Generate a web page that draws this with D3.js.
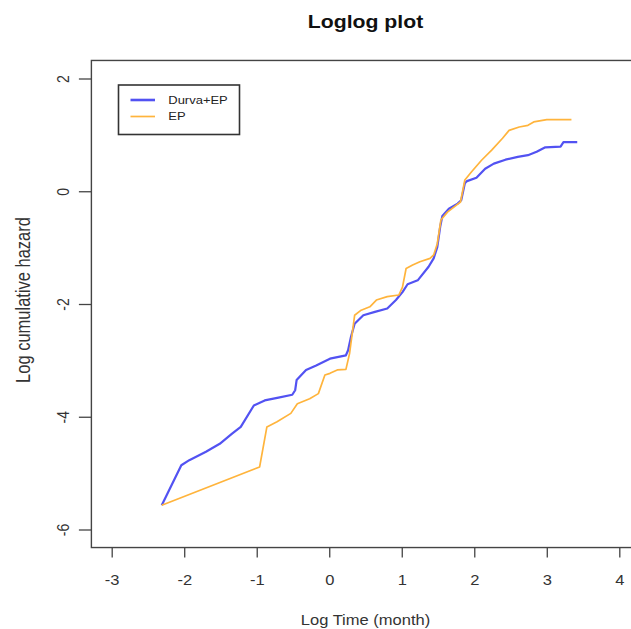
<!DOCTYPE html>
<html>
<head>
<meta charset="utf-8">
<script src="https://cdn.jsdelivr.net/npm/d3@7"></script>
<style>
  body { margin: 0; background: #fff; }
  text { font-family: "Liberation Sans", Arial, sans-serif; }
</style>
</head>
<body>
<div id="chart-area"></div>
<script>
// chart text
const TITLE = "Loglog plot"
const X_LABEL = "Log Time (month)"
const Y_LABEL = "Log cumulative hazard"
const SERIES_NAMES = ["Durva+EP", "EP"]

// tick values
const X_TICKS = [-3, -2, -1, 0, 1, 2, 3, 4]
const Y_TICKS = [-6, -4, -2, 0, 2]

// Durva+EP curve (log time, log cumulative hazard)
const durvaX = [-2.31, -2.04, -1.93, -1.70, -1.51, -1.34, -1.22, -1.04, -0.89, -0.70, -0.51, -0.47, -0.45,
  -0.32, -0.18, 0.01, 0.23, 0.26, 0.30, 0.35, 0.47, 0.63, 0.80, 0.92, 1.01, 1.08, 1.22, 1.37, 1.44, 1.49,
  1.53, 1.56, 1.65, 1.77, 1.82, 1.87, 1.90, 2.03, 2.15, 2.27, 2.43, 2.60, 2.74, 2.86, 2.98, 3.19, 3.23, 3.42]
const durvaY = [-5.57, -4.86, -4.77, -4.62, -4.48, -4.30, -4.18, -3.80, -3.71, -3.66, -3.61, -3.53, -3.35,
  -3.17, -3.09, -2.97, -2.91, -2.82, -2.58, -2.35, -2.20, -2.14, -2.08, -1.93, -1.79, -1.65, -1.58, -1.34, -1.19, -0.99,
  -0.63, -0.44, -0.31, -0.22, -0.16, 0.14, 0.18, 0.24, 0.40, 0.49, 0.56, 0.61, 0.64, 0.70, 0.78, 0.79, 0.87, 0.87]

// EP curve
const epX = [-2.31, -0.96, -0.86, -0.72, -0.53, -0.44, -0.27, -0.15, -0.06, 0.01, 0.11, 0.23, 0.28, 0.35,
  0.44, 0.56, 0.65, 0.80, 0.96, 1.01, 1.06, 1.15, 1.25, 1.39, 1.44, 1.49, 1.54, 1.63, 1.75, 1.81, 1.87,
  1.96, 2.10, 2.24, 2.39, 2.48, 2.62, 2.74, 2.82, 3.00, 3.34]
const epY = [-5.57, -4.89, -4.18, -4.09, -3.94, -3.77, -3.68, -3.59, -3.26, -3.23, -3.17, -3.16, -2.88, -2.20,
  -2.11, -2.05, -1.93, -1.87, -1.84, -1.70, -1.37, -1.31, -1.25, -1.19, -1.13, -0.93, -0.51, -0.37, -0.25, -0.19, 0.20,
  0.34, 0.55, 0.73, 0.94, 1.08, 1.14, 1.17, 1.23, 1.27, 1.27]

const COLORS = ["#5252f2", "#ffb43c"]
const STRETCH = 1.18   // the reference is a bit wider than tall

const WIDTH = 631, HEIGHT = 629

const svg = d3.select("#chart-area").append("svg")
  .attr("width", WIDTH)
  .attr("height", HEIGHT)

const x = d3.scaleLinear().domain([-3, 4]).range([111.7, 619.3])
const y = d3.scaleLinear().domain([-6, 2]).range([529.5, 78.5])

// R style plot region: 4% extension on each side
const box = { x0: x(-3.28), x1: x(4.28), y0: y(2.32), y1: y(-6.32) }

// helper for horizontally stretched text
function placeText(sel, px, py, rot) {
  sel.attr("x", 0).attr("y", 0)
    .attr("transform", `translate(${px},${py}) scale(${STRETCH},1)` + (rot ? " rotate(-90)" : ""))
  return sel
}

// title
placeText(svg.append("text"), (box.x0 + box.x1) / 2, 28, false)
  .attr("text-anchor", "middle")
  .attr("font-size", "18px")
  .attr("font-weight", "bold")
  .attr("fill", "#111")
  .text(TITLE)

// x axis
const xAxisGroup = svg.append("g")
  .attr("transform", `translate(0, ${box.y1})`)
  .call(d3.axisBottom(x).tickValues(X_TICKS).tickSize(10).tickFormat(d => d))
xAxisGroup.select(".domain").remove()
xAxisGroup.selectAll("line").attr("stroke", "#444").attr("stroke-width", 1.3)
xAxisGroup.selectAll("text").each(function() {
  placeText(d3.select(this), 0, 33, false)
    .attr("dy", "0.35em")
    .attr("font-size", "14px")
    .attr("fill", "#333")
})

// y axis
const yAxisGroup = svg.append("g")
  .attr("transform", `translate(${box.x0}, 0)`)
  .call(d3.axisLeft(y).tickValues(Y_TICKS).tickSize(12.5).tickFormat(d => d))
yAxisGroup.select(".domain").remove()
yAxisGroup.selectAll("line").attr("stroke", "#444").attr("stroke-width", 1.3)
yAxisGroup.selectAll("text").each(function() {
  placeText(d3.select(this), -28.5, 0, true)
    .attr("text-anchor", "middle")
    .attr("dy", "0.35em")
    .attr("font-size", "14px")
    .attr("fill", "#333")
})

// axis labels
placeText(svg.append("text"), (box.x0 + box.x1) / 2, 620, false)
  .attr("text-anchor", "middle")
  .attr("dy", "0.35em")
  .attr("font-size", "14px")
  .attr("fill", "#333")
  .text(X_LABEL)

placeText(svg.append("text"), 23, (box.y0 + box.y1) / 2 - 4, true)
  .attr("text-anchor", "middle")
  .attr("dy", "0.35em")
  .attr("font-size", "16.5px")
  .attr("fill", "#333")
  .text(Y_LABEL)

// plot box
svg.append("rect")
  .attr("x", box.x0)
  .attr("y", box.y0)
  .attr("width", box.x1 - box.x0)
  .attr("height", box.y1 - box.y0)
  .attr("fill", "none")
  .attr("stroke", "#444")
  .attr("stroke-width", 1.4)

// curves
const line = d3.line().x(d => x(d[0])).y(d => y(d[1]))
const series = [
  d3.zip(durvaX, durvaY),
  d3.zip(epX, epY)
]
svg.selectAll("path.curve")
  .data(series)
  .enter().append("path")
  .attr("class", "curve")
  .attr("d", line)
  .attr("fill", "none")
  .attr("stroke", (d, i) => COLORS[i])
  .attr("stroke-width", (d, i) => i === 0 ? 2.2 : 1.7)
  .attr("stroke-linejoin", "round")

// legend
const legend = svg.append("g")
legend.append("rect")
  .attr("x", 118.5).attr("y", 85)
  .attr("width", 121).attr("height", 49.5)
  .attr("fill", "#fff")
  .attr("stroke", "#333")
  .attr("stroke-width", 1.6)

SERIES_NAMES.forEach((name, i) => {
  const ly = 100 + i * 16.5
  legend.append("line")
    .attr("x1", 130.5).attr("x2", 155)
    .attr("y1", ly).attr("y2", ly)
    .attr("stroke", COLORS[i])
    .attr("stroke-width", i === 0 ? 2.6 : 1.7)
  placeText(legend.append("text"), 168.3, ly, false)
    .attr("dy", "0.35em")
    .attr("font-size", "11px")
    .attr("fill", "#222")
    .text(name)
})
</script>
</body>
</html>
